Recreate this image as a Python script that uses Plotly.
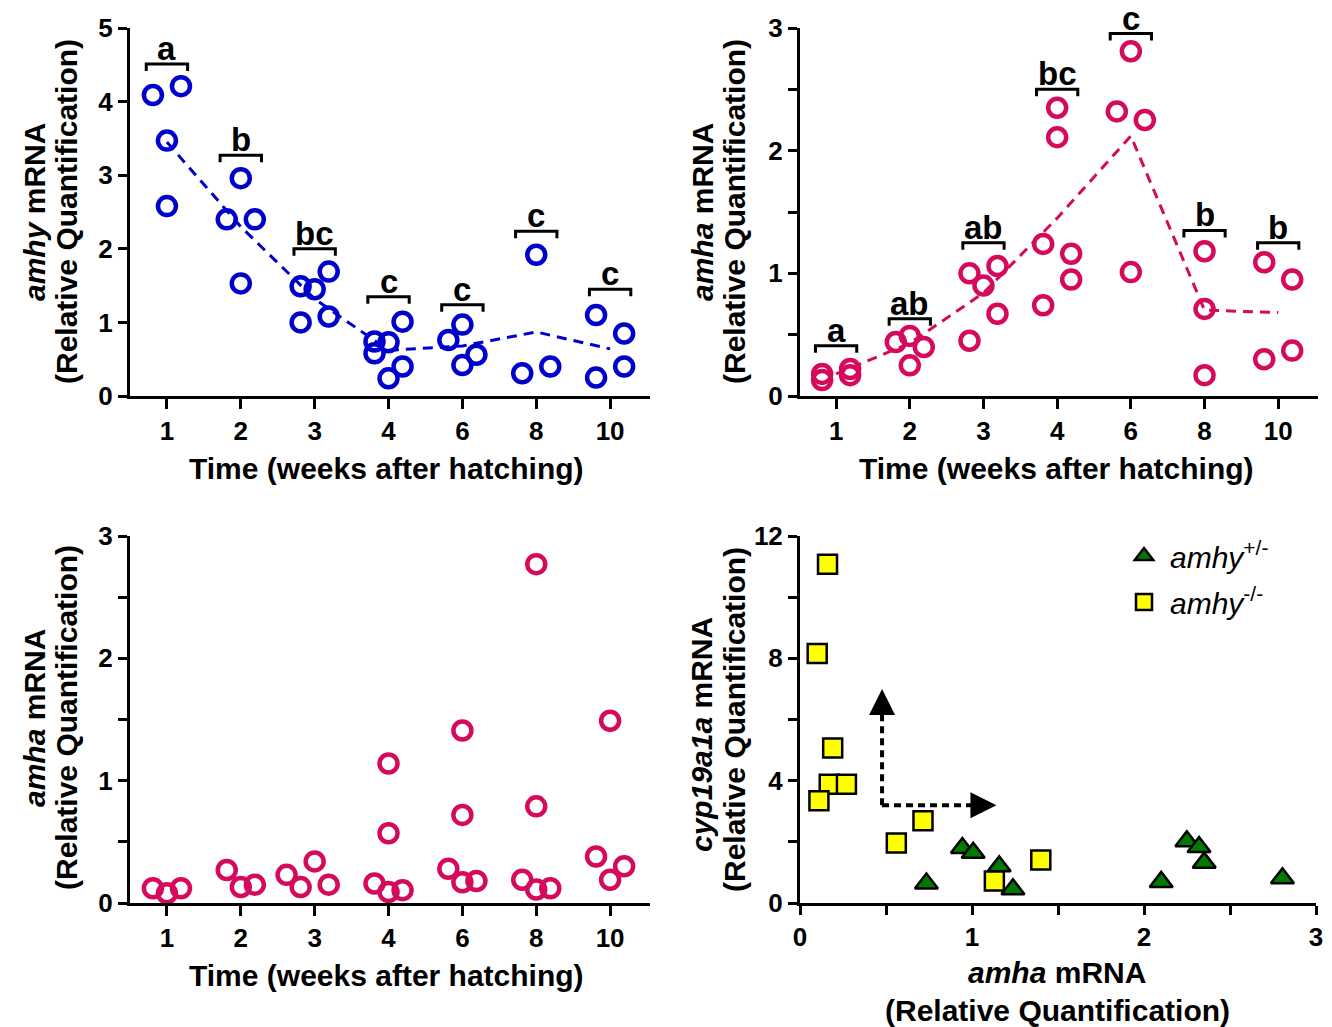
import plotly.graph_objects as go

W, H = 1332, 1027
FONT = "Arial, Liberation Sans, sans-serif"

# ---------------- data ----------------
weeks = ["1", "2", "3", "4", "6", "8", "10"]

# Panel A: amhy mRNA (amhy+/-)
amhy_vals = [[4.09, 4.21, 3.47, 2.58],
             [2.96, 2.40, 2.40, 1.53],
             [1.49, 1.45, 1.69, 1.08, 1.00],
             [0.74, 0.58, 0.73, 0.24, 1.01, 0.40],
             [0.76, 0.97, 0.42, 0.56],
             [1.92, 0.31, 0.40],
             [1.10, 0.85, 0.25, 0.40]]
amhy_slots = [[-1, 1, 0, 0],
              [0, -1, 1, 0],
              [-1, 0, 1, 1, -1],
              [-1, -1, 0, 0, 1, 1],
              [-1, 0, 0, 1],
              [0, -1, 1],
              [-1, 1, -1, 1]]
amhy_mean = [3.45, 2.30, 1.32, 0.62, 0.68, 0.87, 0.64]
amhy_letters = ["a", "b", "bc", "c", "c", "c", "c"]
amhy_bracket = [4.51, 3.27, 2.00, 1.35, 1.24, 2.24, 1.45]

# Panel B: amha mRNA (amhy+/-)
amhaB_vals = [[0.18, 0.13, 0.22, 0.17],
              [0.44, 0.49, 0.40, 0.25],
              [1.00, 0.90, 1.06, 0.67, 0.45],
              [1.24, 0.74, 2.35, 2.11, 1.16, 0.95],
              [2.81, 2.32, 2.25, 1.01],
              [1.18, 0.71, 0.17],
              [1.09, 0.95, 0.30, 0.37]]
amhaB_slots = [[-1, -1, 1, 1],
               [-1, 0, 1, 0],
               [-1, 0, 1, 1, -1],
               [-1, -1, 0, 0, 1, 1],
               [0, -1, 1, 0],
               [0, 0, 0],
               [-1, 1, -1, 1]]
amhaB_mean = [0.18, 0.43, 0.84, 1.45, 2.12, 0.70, 0.68]
amhaB_letters = ["a", "ab", "ab", "bc", "c", "b", "b"]
amhaB_bracket = [0.41, 0.63, 1.25, 2.50, 2.955, 1.35, 1.25]

# Panel C: amha mRNA (amhy-/-)
amhaC_vals = [[0.12, 0.08, 0.12],
              [0.27, 0.13, 0.15],
              [0.23, 0.13, 0.34, 0.15],
              [0.16, 1.14, 0.57, 0.09, 0.105],
              [0.28, 1.41, 0.72, 0.17, 0.18],
              [0.19, 2.77, 0.79, 0.11, 0.12],
              [0.38, 1.49, 0.19, 0.30]]
amhaC_slots = [[-1, 0, 1],
               [-1, 0, 1],
               [-2, -1, 0, 1],
               [-1, 0, 0, 0, 1],
               [-1, 0, 0, 0, 1],
               [-1, 0, 0, 0, 1],
               [-1, 0, 0, 1]]

# Panel D: cyp19a1a vs amha
het_amha = [0.735, 0.944, 1.007, 1.158, 1.238, 2.10, 2.249, 2.32, 2.35, 2.805]
het_cyp = [0.64, 1.80, 1.64, 1.20, 0.45, 0.69, 2.02, 1.83, 1.32, 0.81]
ko_amha = [0.16, 0.10, 0.19, 0.17, 0.27, 0.11, 0.715, 0.56, 1.40, 1.13]
ko_cyp = [11.08, 8.16, 5.07, 3.88, 3.88, 3.34, 2.69, 1.96, 1.41, 0.72]

# arrows (corner x, corner y, vertical tip y, horizontal tip x)
arrow_corner = (0.477, 3.2)
arrow_vtip = 7.0
arrow_htip = 1.142

BLUE = "#0000CC"
PINK = "#D50A5C"
SLOT = 0.19

# ---------------- helpers ----------------
def dom_x(a, b):
    return [a / W, b / W]

def dom_y(top, bottom):
    return [1 - bottom / H, 1 - top / H]

def jitter(vals, slots):
    xs, ys = [], []
    for i, (vv, ss) in enumerate(zip(vals, slots)):
        for v, s in zip(vv, ss):
            xs.append(i + s * SLOT)
            ys.append(v)
    return xs, ys

fig = go.Figure()

def add_points(vals, slots, color, ax):
    xs, ys = jitter(vals, slots)
    fig.add_trace(go.Scatter(x=xs, y=ys, mode="markers", xaxis="x" + ax, yaxis="y" + ax,
                             marker=dict(symbol="circle-open", size=18, color=color,
                                         line=dict(width=4.5, color=color)),
                             showlegend=False, hoverinfo="skip"))

def add_mean(mean, color, ax):
    fig.add_trace(go.Scatter(x=list(range(len(mean))), y=mean, mode="lines",
                             xaxis="x" + ax, yaxis="y" + ax,
                             line=dict(color=color, width=3, dash="10px,7px"),
                             showlegend=False, hoverinfo="skip"))

def add_brackets(bracket, letters, ax, tick):
    xs, ys = [], []
    for i, yb in enumerate(bracket):
        xs += [i - 0.28, i - 0.28, i + 0.28, i + 0.28, None]
        ys += [yb - tick, yb, yb, yb - tick, None]
    fig.add_trace(go.Scatter(x=xs, y=ys, mode="lines", xaxis="x" + ax, yaxis="y" + ax,
                             line=dict(color="black", width=3),
                             showlegend=False, hoverinfo="skip"))
    for i, (yb, t) in enumerate(zip(bracket, letters)):
        fig.add_annotation(x=i, y=yb, xref="x" + ax, yref="y" + ax, text=t,
                           showarrow=False, yanchor="bottom", yshift=-5,
                           font=dict(family=FONT, size=33, color="black", weight="bold"))

# Panel A
add_mean(amhy_mean, BLUE, "")
add_points(amhy_vals, amhy_slots, BLUE, "")
add_brackets(amhy_bracket, amhy_letters, "", 7 / 73.6)
# Panel B
add_mean(amhaB_mean, PINK, "2")
add_points(amhaB_vals, amhaB_slots, PINK, "2")
add_brackets(amhaB_bracket, amhaB_letters, "2", 7 / 122.8)
# Panel C
add_points(amhaC_vals, amhaC_slots, PINK, "3")

# Panel D
fig.add_trace(go.Scatter(x=het_amha, y=het_cyp, mode="markers", xaxis="x4", yaxis="y4",
                         name="<i>amhy</i><sup>+/-</sup>", legendgroup="g1",
                         marker=dict(symbol="triangle-up", size=20, color="#007A00",
                                     line=dict(width=2.5, color="black")),
                         hoverinfo="skip"))
fig.add_trace(go.Scatter(x=ko_amha, y=ko_cyp, mode="markers", xaxis="x4", yaxis="y4",
                         name="<i>amhy</i><sup>-/-</sup>", legendgroup="g2",
                         marker=dict(symbol="square", size=19, color="#FFFF00",
                                     line=dict(width=2.5, color="black")),
                         hoverinfo="skip"))

cx, cy = arrow_corner
fig.add_shape(type="line", xref="x4", yref="y4", x0=cx, y0=cy, x1=cx, y1=arrow_vtip - 0.85,
              line=dict(color="black", width=4, dash="7px,5px"))
fig.add_shape(type="line", xref="x4", yref="y4", x0=cx, y0=cy, x1=arrow_htip - 0.14, y1=cy,
              line=dict(color="black", width=4, dash="7px,5px"))
fig.add_trace(go.Scatter(x=[cx, arrow_htip], y=[arrow_vtip, cy], mode="markers",
                         xaxis="x4", yaxis="y4", showlegend=False, hoverinfo="skip",
                         marker=dict(symbol=["arrow-up", "arrow-right"], size=26,
                                     color="black", line=dict(width=0))))

# ---------------- axes ----------------
tickfont = dict(family=FONT, size=26, color="black", weight="bold")
base = dict(showline=True, linecolor="black", linewidth=3, ticks="outside", ticklen=9,
            tickwidth=3, tickcolor="black", showgrid=False, zeroline=False, tickfont=tickfont)

def cat_x(domain, rng, anchor):
    d = dict(base)
    d.update(domain=domain, range=rng, tickmode="array", tickvals=list(range(len(weeks))),
             ticktext=weeks, anchor=anchor, ticklen=10)
    return d

def num_y(domain, rng, dtick, minor, anchor):
    d = dict(base)
    d.update(domain=domain, range=rng, tick0=0, dtick=dtick, anchor=anchor)
    if minor:
        d["minor"] = dict(dtick=minor, ticks="outside", ticklen=9, tickwidth=3,
                          tickcolor="black", showgrid=False)
    return d

xd4 = dict(base)
xd4.update(domain=dom_x(800, 1316), range=[0, 3], tick0=0, dtick=1, anchor="y4",
           minor=dict(dtick=0.5, ticks="outside", ticklen=9, tickwidth=3,
                      tickcolor="black", showgrid=False))

fig.update_layout(
    width=W, height=H, margin=dict(l=0, r=0, t=0, b=0, autoexpand=False),
    paper_bgcolor="white", plot_bgcolor="white",
    xaxis=cat_x(dom_x(130, 650), [-0.5, 6.54], "y"),
    yaxis=num_y(dom_y(28, 396), [0, 5], 1, None, "x"),
    xaxis2=cat_x(dom_x(800, 1318), [-0.49, 6.54], "y2"),
    yaxis2=num_y(dom_y(28, 396), [0, 3], 1, 0.5, "x2"),
    xaxis3=cat_x(dom_x(130, 650), [-0.5, 6.54], "y3"),
    yaxis3=num_y(dom_y(536, 903), [0, 3], 1, 0.5, "x3"),
    xaxis4=xd4,
    yaxis4=num_y(dom_y(536, 903), [0, 12], 4, 2, "x4"),
    showlegend=True,
    legend=dict(x=1118 / W, y=1 - 530 / H, xanchor="left", yanchor="top",
                font=dict(family=FONT, size=30, color="black"),
                bgcolor="rgba(0,0,0,0)", tracegroupgap=4, itemsizing="trace",
                itemwidth=42),
)

# ---------------- titles ----------------
tfont = dict(family=FONT, size=30, color="black", weight="bold")

def title(text, x, y, angle=0):
    fig.add_annotation(x=x / W, y=1 - y / H, xref="paper", yref="paper", text=text,
                       showarrow=False, xanchor="center", yanchor="middle",
                       textangle=angle, font=tfont)

title("<i>amhy</i> mRNA", 34, 212, -90)
title("(Relative Quantification)", 66, 212, -90)
title("Time (weeks after hatching)", 387, 468)

title("<i>amha</i> mRNA", 702, 212, -90)
title("(Relative Quantification)", 734, 212, -90)
title("Time (weeks after hatching)", 1056, 468)

title("<i>amha</i> mRNA", 34, 718, -90)
title("(Relative Quantification)", 66, 718, -90)
title("Time (weeks after hatching)", 387, 975)

title("<i>cyp19a1a</i> mRNA", 701, 735, -90)
title("(Relative Quantification)", 734, 720, -90)
title("<i>amha</i> mRNA", 1057, 972)
title("(Relative Quantification)", 1057, 1010)

fig.write_html("out.html", config={"displayModeBar": False},
               post_script="document.body.style.margin='0px';"
                           "document.body.style.overflow='hidden';")
